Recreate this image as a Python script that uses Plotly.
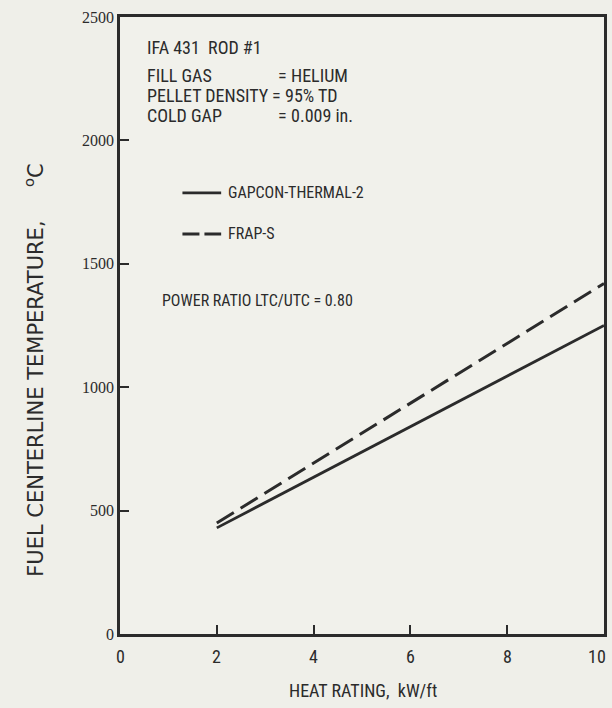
import plotly.graph_objects as go

heat_rating = [2, 4, 6, 8, 10]
gapcon_temp = [430, 635, 840, 1045, 1250]
frap_temp = [450, 692, 935, 1178, 1420]

x_ticks = [0, 2, 4, 6, 8, 10]
y_ticks = [0, 500, 1000, 1500, 2000, 2500]

INK = "#2b2b2b"
FONT = "Roboto Condensed, DejaVu Sans Condensed, sans-serif"
TICKFONT = "Liberation Serif, DejaVu Serif, serif"
TITLEFONT = "DejaVu Sans, sans-serif"

fig = go.Figure()
fig.add_trace(go.Scatter(x=heat_rating, y=gapcon_temp, mode="lines",
                         line=dict(color=INK, width=2.8), name="GAPCON-THERMAL-2"))
fig.add_trace(go.Scatter(x=heat_rating, y=frap_temp, mode="lines",
                         line=dict(color=INK, width=3, dash="20px,8px"), name="FRAP-S"))

annots = []
def txt(x, y, s, size=18):
    annots.append(dict(x=x, y=y, xref="x", yref="y", text=s, showarrow=False,
                       xanchor="left", yanchor="middle",
                       font=dict(family=FONT, size=size, color=INK)))

txt(0.51, 2378, "IFA 431  ROD #1")
txt(0.51, 2265, "FILL GAS")
txt(3.22, 2265, "=")
txt(3.49, 2265, "HELIUM")
txt(0.51, 2180, "PELLET DENSITY")
txt(3.10, 2180, "=")
txt(3.36, 2180, "95% TD")
txt(0.51, 2099, "COLD GAP")
txt(3.22, 2099, "=")
txt(3.49, 2099, "0.009 in.")
txt(2.20, 1787, "GAPCON-THERMAL-2", 16)
txt(2.20, 1621, "FRAP-S", 16)
txt(0.82, 1353, "POWER RATIO LTC/UTC = 0.80", 16)

# x tick labels placed on the axis scale
for v in x_ticks:
    annots.append(dict(x=v, y=-0.037, xref="x", yref="paper", text=str(v), showarrow=False,
                       xanchor="center", yanchor="middle", xshift=-7 if v == 10 else 0,
                       font=dict(family=FONT, size=18, color=INK)))

annots.append(dict(x=0.503, y=-0.091, xref="paper", yref="paper", text="HEAT RATING,  kW/ft",
                   showarrow=False, xanchor="center", yanchor="middle",
                   font=dict(family=FONT, size=18, color=INK)))
annots.append(dict(x=-0.178, y=0.428, xref="paper", yref="paper",
                   text="FUEL CENTERLINE TEMPERATURE,\u00a0\u00a0\u00a0\u00a0\u00a0<sup>o</sup>C",
                   textangle=-90, showarrow=False, xanchor="center", yanchor="middle",
                   font=dict(family=TITLEFONT, size=21, color=INK)))

shapes = [
    dict(type="line", xref="x", yref="y", x0=1.29, x1=2.09, y0=1787, y1=1787,
         line=dict(color=INK, width=2.8)),
    dict(type="line", xref="x", yref="y", x0=1.29, x1=2.09, y0=1621, y1=1621,
         line=dict(color=INK, width=3, dash="17px,5px")),
]

fig.update_layout(
    width=612, height=708,
    margin=dict(l=120, r=5, t=17, b=74),
    paper_bgcolor="#efefe9", plot_bgcolor="#f1f1eb",
    showlegend=False,
    annotations=annots, shapes=shapes,
    font=dict(family=FONT, color=INK),
)
fig.update_xaxes(range=[0, 10], tickvals=x_ticks, showticklabels=False,
                 ticks="inside", ticklen=9, tickwidth=2, tickcolor=INK,
                 showline=True, linecolor=INK, linewidth=2.5, mirror=True,
                 showgrid=False, zeroline=False)
fig.update_yaxes(range=[0, 2500], tickvals=y_ticks, ticktext=[str(v) for v in y_ticks],
                 ticks="inside", ticklen=9, tickwidth=2, tickcolor=INK,
                 showline=True, linecolor=INK, linewidth=2.5, mirror=True,
                 showgrid=False, zeroline=False,
                 tickfont=dict(family=TICKFONT, size=16, color=INK))

fig.write_html("out.html")
